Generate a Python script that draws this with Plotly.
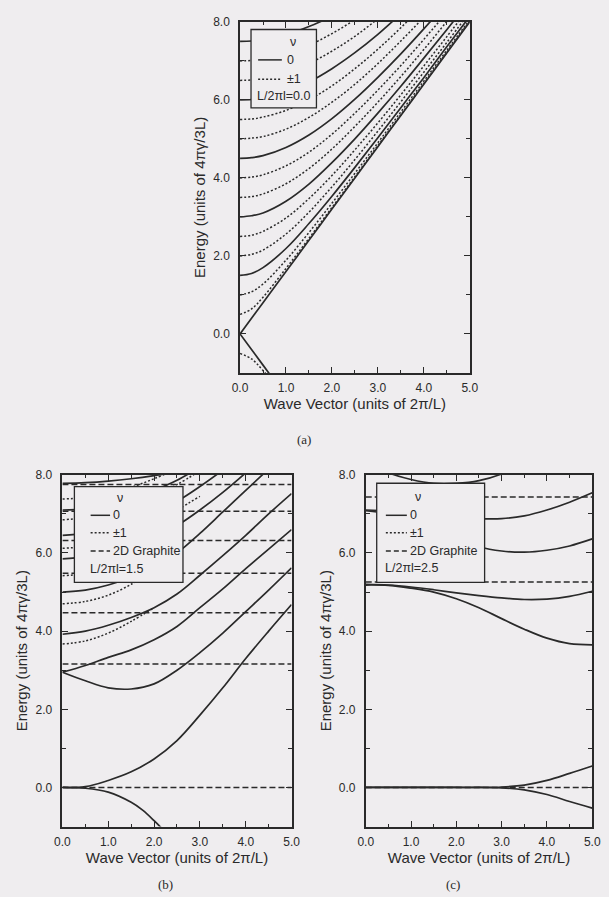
import plotly.graph_objects as go

# ---------------- data ----------------
# Panel (a): L/2pi l = 0.0
K_A = [0, 0.25, 0.5, 1, 1.5, 2, 2.5, 3, 3.5, 4, 4.5, 5]
a_s00 = [0, 0.4, 0.8, 1.6, 2.4, 3.2, 4.0, 4.8, 5.6, 6.4, 7.2, 8.0]
a_d05 = [0.5, 0.64, 0.94, 1.68, 2.45, 3.24, 4.03, 4.83, 5.62, 6.42, 7.22, 8.02]
a_d10 = [1.0, 1.08, 1.28, 1.89, 2.6, 3.35, 4.12, 4.9, 5.69, 6.48, 7.27, 8.06]
a_s15 = [1.5, 1.55, 1.7, 2.19, 2.83, 3.53, 4.27, 5.03, 5.8, 6.57, 7.36, 8.14]
a_d20 = [2.0, 2.04, 2.15, 2.56, 3.12, 3.77, 4.47, 5.2, 5.95, 6.71, 7.47, 8.25]
a_d25 = [2.5, 2.53, 2.63, 2.97, 3.47, 4.06, 4.72, 5.41, 6.13, 6.87, 7.62, 8.38]
a_s30 = [3.0, 3.03, 3.1, 3.4, 3.84, 4.39, 5.0, 5.66, 6.35, 7.07, 7.8, 8.54]
a_d35 = [3.5, 3.52, 3.59, 3.85, 4.24, 4.74, 5.32, 5.94, 6.6, 7.29, 8.01, 8.73]
a_d40 = [4.0, 4.02, 4.08, 4.31, 4.66, 5.12, 5.66, 6.25, 6.88, 7.55, 8.24, 8.94]
a_s45 = [4.5, 4.52, 4.57, 4.78, 5.1, 5.52, 6.02, 6.58, 7.18, 7.82, 8.49, 9.18]
a_d50 = [5.0, 5.02, 5.06, 5.25, 5.55, 5.94, 6.4, 6.93, 7.51, 8.12, 8.77, 9.43]
a_d55 = [5.5, 5.51, 5.56, 5.73, 6.0, 6.36, 6.8, 7.3, 7.85, 8.44, 9.06, 9.71]
a_s60 = [6.0, 6.01, 6.05, 6.21, 6.46, 6.8, 7.21, 7.68, 8.21, 8.77, 9.37, 10.0]
a_d65 = [6.5, 6.51, 6.55, 6.69, 6.93, 7.25, 7.63, 8.08, 8.58, 9.12, 9.7, 10.31]
a_d70 = [7.0, 7.01, 7.05, 7.18, 7.4, 7.7, 8.06, 8.49, 8.96, 9.49, 10.04, 10.63]
a_s75 = [7.5, 7.51, 7.54, 7.67, 7.88, 8.15, 8.5, 8.91, 9.36, 9.86, 10.4, 10.97]
a_s00n = [0, -0.4, -0.8, -1.6, -2.4]
a_d05n = [-0.5, -0.64, -0.94, -1.68, -2.45]

# Panel (b): L/2pi l = 1.5
K_B = [0, 0.5, 1, 1.5, 2, 2.5, 3, 3.5, 4, 4.5, 5]
K_B_LOW = [0, 0.5, 1, 1.5, 1.75, 2, 2.25, 2.5]
b_s0u = [0, 0.02, 0.18, 0.4, 0.73, 1.2, 1.85, 2.55, 3.3, 4.0, 4.68]
b_s0d = [0, -0.02, -0.12, -0.38, -0.58, -0.85, -1.15, -1.5]
b_sB = [2.95, 2.73, 2.55, 2.52, 2.65, 3.0, 3.45, 3.95, 4.5, 5.05, 5.62]
b_sA = [2.95, 3.12, 3.33, 3.52, 3.78, 4.12, 4.6, 5.08, 5.6, 6.1, 6.6]
b_sC = [3.92, 4.0, 4.15, 4.35, 4.6, 4.95, 5.43, 5.93, 6.45, 7.0, 7.52]
b_sD = [5.0, 5.05, 5.18, 5.38, 5.65, 6.0, 6.5, 7.05, 7.6, 8.15]
b_sE = [5.85, 5.9, 6.0, 6.15, 6.38, 6.7, 7.1, 7.55, 8.05]
b_sF = [6.45, 6.5, 6.6, 6.78, 7.02, 7.32, 7.7, 8.12]
b_sG = [7.1, 7.13, 7.22, 7.38, 7.6, 7.86, 8.2]
b_sH = [7.78, 7.8, 7.84, 7.9, 7.98, 8.08]
b_d1 = [3.67, 3.75, 3.95, 4.25, 4.6]
b_d2 = [4.7, 4.76, 4.92, 5.2, 5.6]
b_d3 = [5.42, 5.47, 5.6, 5.82, 6.1, 6.42]
b_d4 = [6.12, 6.17, 6.3, 6.5, 6.78, 7.1, 7.45]
b_d5 = [6.85, 6.9, 7.02, 7.2, 7.45, 7.75, 8.1]
b_d6 = [7.38, 7.42, 7.52, 7.68, 7.9, 8.15]
B_LANDAU = [0, 3.16, 4.47, 5.48, 6.32, 7.07, 7.75]

# Panel (c): L/2pi l = 2.5
K_C = [0, 0.5, 1, 1.5, 2, 2.5, 3, 3.5, 4, 4.5, 5]
c_s0u = [0, 0, 0, 0, 0, 0, 0.01, 0.06, 0.18, 0.36, 0.55]
c_s0d = [0, 0, 0, 0, 0, 0, -0.01, -0.06, -0.18, -0.36, -0.53]
c_s1 = [5.18, 5.17, 5.1, 5.0, 4.83, 4.6, 4.32, 4.05, 3.82, 3.68, 3.65]
c_s2 = [5.2, 5.18, 5.13, 5.06, 4.98, 4.91, 4.85, 4.81, 4.82, 4.89, 5.02]
c_s3 = [7.08, 7.0, 6.85, 6.62, 6.38, 6.16, 6.05, 6.02, 6.07, 6.18, 6.36]
c_s4 = [7.1, 7.08, 7.04, 6.98, 6.92, 6.88, 6.88, 6.95, 7.1, 7.3, 7.54]
c_s5 = [8.3, 8.05, 7.88, 7.78, 7.78, 7.85, 8.02, 8.3]
C_LANDAU = [0, 5.26, 7.43]

X_TICKS = [0, 1, 2, 3, 4, 5]
Y_TICKS = [0, 2, 4, 6, 8]
LEGEND_VALUES = ["0.0", "1.5", "2.5"]

# ---------------- styling ----------------
BG = "#efedef"
INK = "#2a2a2a"
FONT = "Liberation Sans"
W, H = 609, 897
SOLID = dict(color=INK, width=1.7)
DOT = dict(color=INK, width=1.5, dash="2px,2px")
DASH = dict(color=INK, width=1.5, dash="6px,3px")

fig = go.Figure()


def add(xs, ys, line, ax):
    fig.add_trace(go.Scatter(x=xs[:len(ys)], y=ys, mode="lines", line=dict(shape="spline", **line),
                             xaxis="x" + ax, yaxis="y" + ax, showlegend=False, hoverinfo="skip"))


# (a)
for ys in [a_d05, a_d10, a_d20, a_d25, a_d35, a_d40, a_d50, a_d55, a_d65, a_d70, a_d05n]:
    add(K_A, ys, DOT, "")
for ys in [a_s00, a_s15, a_s30, a_s45, a_s60, a_s75, a_s00n]:
    add(K_A, ys, SOLID, "")

# (b)
for lv in B_LANDAU:
    add([0, 5], [lv, lv], DASH, "2")
for ys in [b_d1, b_d2, b_d3, b_d4, b_d5, b_d6]:
    add(K_B, ys, DOT, "2")
for ys in [b_s0u, b_sB, b_sA, b_sC, b_sD, b_sE, b_sF, b_sG, b_sH]:
    add(K_B, ys, SOLID, "2")
add(K_B_LOW, b_s0d, SOLID, "2")

# (c)
for lv in C_LANDAU:
    add([0, 5], [lv, lv], DASH, "3")
for ys in [c_s0u, c_s0d, c_s1, c_s2, c_s3, c_s4, c_s5]:
    add(K_C, ys, SOLID, "3")


def px(x):
    return x / W


def py(y):
    return 1 - y / H


def xaxis(dom, anchor):
    return dict(domain=dom, anchor=anchor, range=[0, 5], tickmode="array", tickvals=X_TICKS,
                ticktext=["%.1f" % v for v in X_TICKS], ticks="inside", ticklen=6, tickwidth=1.3,
                tickcolor=INK, showline=True, linecolor=INK, linewidth=1.6, mirror="ticks",
                showgrid=False, zeroline=False, ticklabelstandoff=3,
                minor=dict(dtick=0.5, ticks="inside", ticklen=3, tickcolor=INK, tickwidth=1.3, showgrid=False),
                tickfont=dict(family=FONT, size=12, color=INK),
                title=dict(text="Wave Vector (units of 2\u03c0/L)", standoff=2,
                           font=dict(family=FONT, size=15, color=INK)))


def yaxis(dom, anchor):
    return dict(domain=dom, anchor=anchor, range=[-1, 8], tickmode="array", tickvals=Y_TICKS,
                ticktext=["%.1f" % v for v in Y_TICKS], ticks="inside", ticklen=6, tickwidth=1.3,
                tickcolor=INK, showline=True, linecolor=INK, linewidth=1.6, mirror="ticks",
                showgrid=False, zeroline=False, ticklabelstandoff=6,
                minor=dict(dtick=1, ticks="inside", ticklen=4, tickcolor=INK, tickwidth=1.3, showgrid=False),
                tickfont=dict(family=FONT, size=12, color=INK),
                title=dict(text="Energy (units of 4\u03c0\u03b3/3L)", standoff=4,
                           font=dict(family=FONT, size=15, color=INK)))


fig.update_layout(
    width=W, height=H, margin=dict(l=0, r=0, t=0, b=0),
    paper_bgcolor=BG, plot_bgcolor=BG,
    xaxis=xaxis([px(238.7), px(475)], "y"), yaxis=yaxis([py(368.8), py(15)], "x"),
    xaxis2=xaxis([px(56), px(291.7)], "y2"), yaxis2=yaxis([py(826), py(471.5)], "x2"),
    xaxis3=xaxis([px(368), px(601)], "y3"), yaxis3=yaxis([py(826), py(471.5)], "x3"),
)

shapes = []
annotations = []
TXT = dict(family=FONT, size=12.5, color=INK)


def legend(box, rows_y, line_x, text_x, nu_x, items, label):
    x0, x1, y0, y1 = box
    shapes.append(dict(type="rect", xref="paper", yref="paper", x0=px(x0), x1=px(x1), y0=py(y1), y1=py(y0),
                       fillcolor=BG, line=dict(color=INK, width=1.3), layer="above"))
    annotations.append(dict(x=px(nu_x), y=py(rows_y[0]), xref="paper", yref="paper", text="\u03bd",
                            showarrow=False, font=TXT, xanchor="center", yanchor="middle"))
    for i, (txt, st) in enumerate(items):
        yy = rows_y[i + 1]
        shapes.append(dict(type="line", xref="paper", yref="paper", x0=px(line_x[0]), x1=px(line_x[1]),
                           y0=py(yy), y1=py(yy), line=st, layer="above"))
        annotations.append(dict(x=px(text_x), y=py(yy), xref="paper", yref="paper", text=txt,
                                showarrow=False, font=TXT, xanchor="left", yanchor="middle"))
    annotations.append(dict(x=px(line_x[0] - 3), y=py(rows_y[-1]), xref="paper", yref="paper", text=label,
                            showarrow=False, font=TXT, xanchor="left", yanchor="middle"))


LS = dict(color=INK, width=1.5)
LD = dict(color=INK, width=1.5, dash="2px,2px")
LDa = dict(color=INK, width=1.5, dash="5px,3px")
legend((250, 317.3, 22.7, 101.7), [35, 53.3, 72.7, 89.3], (257.3, 281.7), 285, 293,
       [("0", LS), ("\u00b11", LD)], "L/2\u03c0l=" + LEGEND_VALUES[0])
legend((68.3, 180, 483.3, 580), [495, 512.3, 530, 548.3, 566.7], (85, 105), 105.5, 115,
       [("0", LS), ("\u00b11", LD), ("2D Graphite", LDa)], "L/2\u03c0l=" + LEGEND_VALUES[1])
legend((379.3, 490.3, 480, 580), [494.3, 512.3, 530, 548.3, 565], (388.7, 410.3), 411.5, 422,
       [("0", LS), ("\u00b11", LD), ("2D Graphite", LDa)], "L/2\u03c0l=" + LEGEND_VALUES[2])

for lab, x, y in [("(a)", 304, 436), ("(b)", 162, 884), ("(c)", 458, 884)]:
    annotations.append(dict(x=px(x), y=py(y), xref="paper", yref="paper", text=lab, showarrow=False,
                            font=dict(family="Liberation Serif", size=13, color=INK),
                            xanchor="center", yanchor="middle"))

fig.update_layout(shapes=shapes, annotations=annotations)
fig.write_html("out.html")
